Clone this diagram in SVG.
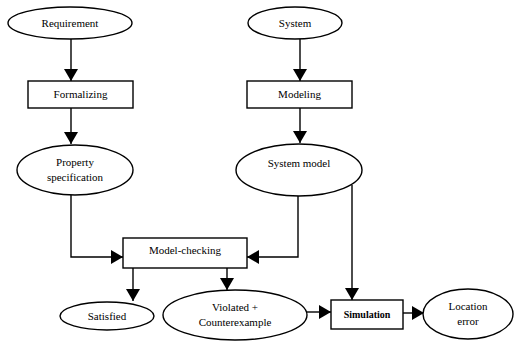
<svg xmlns="http://www.w3.org/2000/svg" width="516" height="342" viewBox="0 0 516 342">
<defs>
<style>
.shape{fill:#fff;stroke:#000;stroke-width:1.4}
.conn{fill:none;stroke:#000;stroke-width:1.4}
text{font-family:"Liberation Serif","Times New Roman",serif;font-size:11px;fill:#000;text-anchor:middle}
.b{font-weight:bold;font-size:10px}
</style>
<marker id="arr" viewBox="0 0 12 14" refX="12" refY="7" markerWidth="12" markerHeight="14" markerUnits="userSpaceOnUse" orient="auto">
<path d="M0,0 L12,7 L0,14 z" fill="#000"/>
</marker>
</defs>
<rect width="516" height="342" fill="#fff"/>
<g id="connectors" class="conn" marker-end="url(#arr)">
<path d="M71 39 V81"/>
<path d="M71 108 V144"/>
<path d="M300 39 V81"/>
<path d="M300 108 V143"/>
<path d="M71 195 V257 H123"/>
<path d="M298 196 V257 H247"/>
<path d="M352 185 V300"/>
<path d="M133 268 V301"/>
<path d="M227 268 V290"/>
<path d="M307 312 H331"/>
<path d="M403 313 H424"/>
</g>
<g id="requirement"><ellipse class="shape" cx="70" cy="23" rx="62" ry="16"/><text x="70" y="27">Requirement</text></g>
<g id="system"><ellipse class="shape" cx="295" cy="23" rx="47" ry="16"/><text x="295" y="27">System</text></g>
<g id="formalizing"><rect class="shape" x="28" y="81" width="105" height="27"/><text x="80.5" y="98">Formalizing</text></g>
<g id="modeling"><rect class="shape" x="247" y="81" width="105" height="27"/><text x="299.5" y="98">Modeling</text></g>
<g id="property"><ellipse class="shape" cx="75" cy="170" rx="58" ry="25"/><text x="75" y="166">Property</text><text x="75" y="181">specification</text></g>
<g id="systemmodel"><ellipse class="shape" cx="299" cy="170" rx="63" ry="26"/><text x="299" y="167">System model</text></g>
<g id="modelchecking"><rect class="shape" x="123" y="238" width="124" height="30"/><text x="185" y="254">Model-checking</text></g>
<g id="satisfied"><ellipse class="shape" cx="107" cy="316" rx="47" ry="14"/><text x="107" y="320">Satisfied</text></g>
<g id="violated"><ellipse class="shape" cx="235" cy="315" rx="72" ry="25"/><text x="235" y="311">Violated +</text><text x="235" y="326">Counterexample</text></g>
<g id="simulation"><rect class="shape" x="331" y="300" width="72" height="29"/><text class="b" x="367" y="318">Simulation</text></g>
<g id="location"><ellipse class="shape" cx="468" cy="314" rx="45" ry="25"/><text x="468" y="310">Location</text><text x="468" y="325">error</text></g>
</svg>
